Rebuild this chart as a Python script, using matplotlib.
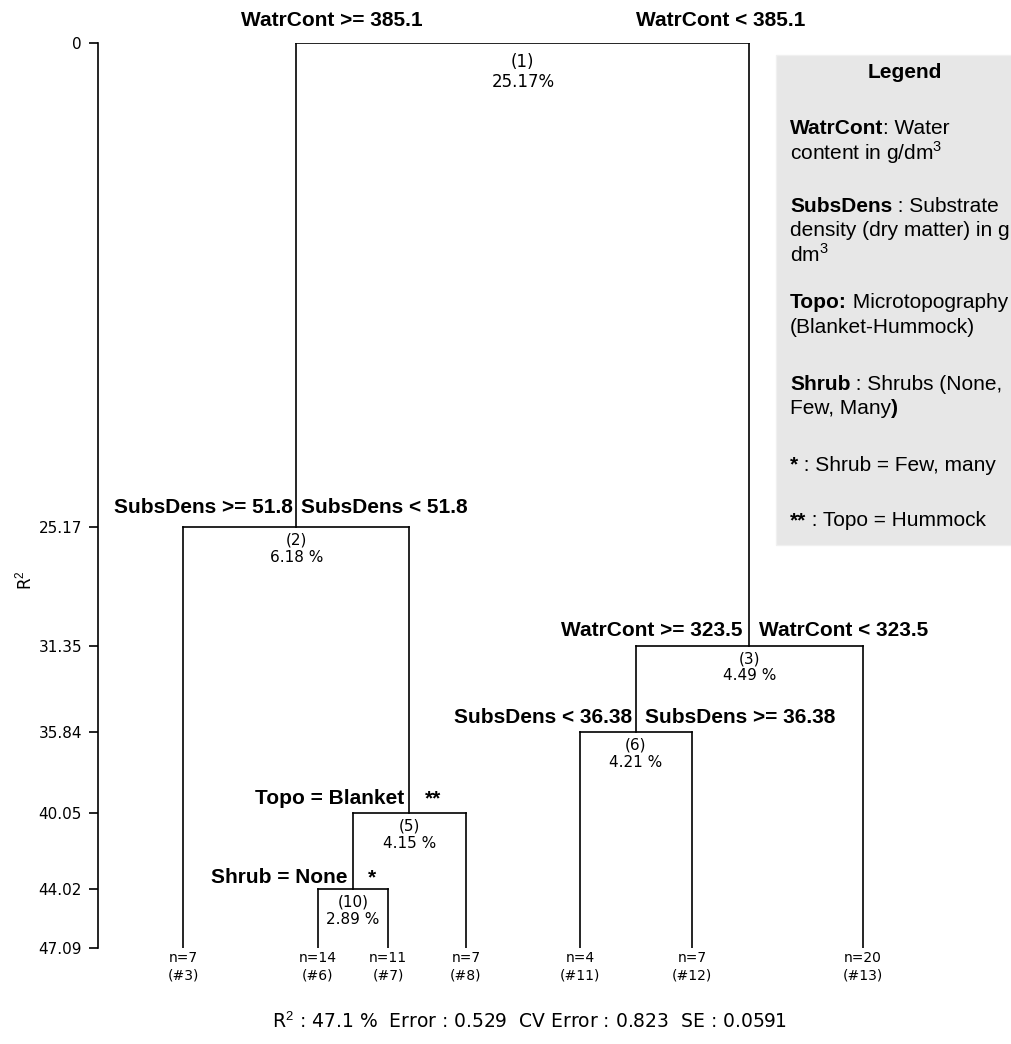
import matplotlib
matplotlib.use('Agg')
import matplotlib.pyplot as plt
from matplotlib.patches import Rectangle

plt.rcParams['font.family'] = 'DejaVu Sans'
plt.rcParams['mathtext.fontset'] = 'custom'
plt.rcParams['mathtext.rm'] = 'Liberation Sans'
plt.rcParams['mathtext.bf'] = 'Liberation Sans:bold'

# terminal groups, left to right
leaf_ids = [3, 6, 7, 8, 11, 12, 13]
leaf_n = [7, 14, 11, 7, 4, 7, 20]
leaf_x = [183, 318, 388, 466, 580, 692, 863]

# split nodes (cumulative R2 where the split happens)
node_ids = [1, 2, 5, 10, 3, 6]
node_r2 = [0, 25.17, 40.05, 44.02, 31.35, 35.84]
node_gain = ['25.17%', '6.18 %', '4.15 %', '2.89 %', '4.49 %', '4.21 %']
node_left = ['n2', 'L3', 'n10', 'L6', 'n6', 'L11']
node_right = ['n3', 'n5', 'L8', 'L7', 'L13', 'L12']
left_labels = ['WatrCont >= 385.1', 'SubsDens >= 51.8', 'Topo = Blanket',
               'Shrub = None', 'WatrCont >= 323.5', 'SubsDens < 36.38']
right_labels = ['WatrCont < 385.1', 'SubsDens < 51.8', '**', '*',
                'WatrCont < 323.5', 'SubsDens >= 36.38']
r2_total = 47.09
r2_ticks = [0, 25.17, 31.35, 35.84, 40.05, 44.02, 47.09]
summary = r'R$^2$ : 47.1 %  Error : 0.529  CV Error : 0.823  SE : 0.0591'

# label layout (pixels): left gap, right gap, height above split line
gap_left = [100, 3, 5, 5, 7, 4]
gap_right = [113, 5, 15, 15, 10, 9]
lift = [23, 19, 14, 11, 15, 14]

# legend: (text, bold) pieces per line, and line centre (px from top)
legend_lines = [
    ([('WatrCont', True), (': Water', False)], 126),
    ([('content in g/dm$^3$', False)], 150),
    ([('SubsDens', True), (' : Substrate', False)], 205),
    ([('density (dry matter) in g', False)], 229),
    ([('dm$^3$', False)], 253),
    ([('Topo:', True), (' Microtopography', False)], 301),
    ([('(Blanket-Hummock)', False)], 325),
    ([('Shrub', True), (' : Shrubs (None,', False)], 382),
    ([('Few, Many', False), (')', True)], 406),
    ([('*', True), (' : Shrub = Few, many', False)], 463),
    ([('**', True), (' : Topo = Hummock', False)], 519),
]

W, H = 1012, 1044
fig = plt.figure(figsize=(W / 100, H / 100), dpi=100)
ax = fig.add_axes([98 / W, (H - 948) / H, (W - 98) / W, 905 / H])
ax.set_xlim(98, W)
ax.set_ylim(r2_total, 0)

nodes = {'n%d' % nid: i for i, nid in enumerate(node_ids)}
leaves = {'L%d' % lid: i for i, lid in enumerate(leaf_ids)}


def xpos(key):
    if key in leaves:
        return leaf_x[leaves[key]]
    i = nodes[key]
    return (xpos(node_left[i]) + xpos(node_right[i])) / 2


def ypos(key):
    if key in leaves:
        return r2_total
    return node_r2[nodes[key]]


lw = 1.2
for i, nid in enumerate(node_ids):
    xl, xr = xpos(node_left[i]), xpos(node_right[i])
    y = node_r2[i]
    xc = (xl + xr) / 2
    ax.plot([xl, xr], [y, y], color='black', lw=lw, solid_capstyle='projecting')
    for child, xx in [(node_left[i], xl), (node_right[i], xr)]:
        ax.plot([xx, xx], [y, ypos(child)], color='black', lw=lw)
    if i == 0:
        ax.annotate('(%d)\n%s' % (nid, node_gain[i]), (xc, y), xytext=(0, -10),
                    textcoords='offset pixels', ha='center', va='top', fontsize=12,
                    linespacing=1.15)
    else:
        ax.annotate('(%d)\n%s' % (nid, node_gain[i]), (xc, y), xytext=(0, -6),
                    textcoords='offset pixels', ha='center', va='top', fontsize=11,
                    linespacing=1.15)
    ax.annotate(left_labels[i], (xc, y), xytext=(-gap_left[i], lift[i]),
                textcoords='offset pixels', ha='right', va='center', fontsize=15,
                family='Liberation Sans', fontweight='bold')
    ax.annotate(right_labels[i], (xc, y), xytext=(gap_right[i], lift[i]),
                textcoords='offset pixels', ha='left', va='center', fontsize=15,
                family='Liberation Sans', fontweight='bold')

for i, lid in enumerate(leaf_ids):
    ax.annotate('n=%d\n(#%d)' % (leaf_n[i], lid), (leaf_x[i], r2_total), xytext=(0, -3),
                textcoords='offset pixels', ha='center', va='top', fontsize=10,
                linespacing=1.3)

for s in ['top', 'right', 'bottom']:
    ax.spines[s].set_visible(False)
ax.spines['left'].set_bounds(0, r2_total)
ax.spines['left'].set_linewidth(lw)
ax.set_xticks([])
ax.set_yticks(r2_ticks)
ax.set_yticklabels(['%g' % t for t in r2_ticks], fontsize=11)
ax.tick_params(axis='y', length=6.5, width=lw, pad=5)
ax.set_ylabel(r'R$^2$', fontsize=12)
ax.yaxis.set_label_coords((35 - 98) / 914, (948 - 580) / 905)

# legend box
fig.patches.append(Rectangle((776 / W, 1 - 545 / H), (W - 776) / W + 0.01, 490 / H,
                             transform=fig.transFigure, facecolor='#e7e7e7',
                             edgecolor='#f0f0f0', lw=1))
fig.text(905 / W, 1 - 72 / H, 'Legend', ha='center', va='center', fontsize=15,
         family='Liberation Sans', fontweight='bold')
renderer = fig.canvas.get_renderer()
for parts, yy in legend_lines:
    x = 790
    for txt, bold in parts:
        t = fig.text(x / W, 1 - yy / H, txt, ha='left', va='center_baseline', fontsize=15,
                     family='Liberation Sans', fontweight='bold' if bold else 'normal')
        x = t.get_window_extent(renderer).x1

fig.text(530 / W, 1 - 1022 / H, summary, ha='center', va='center', fontsize=13.5)

fig.savefig('out.png', dpi=100)
